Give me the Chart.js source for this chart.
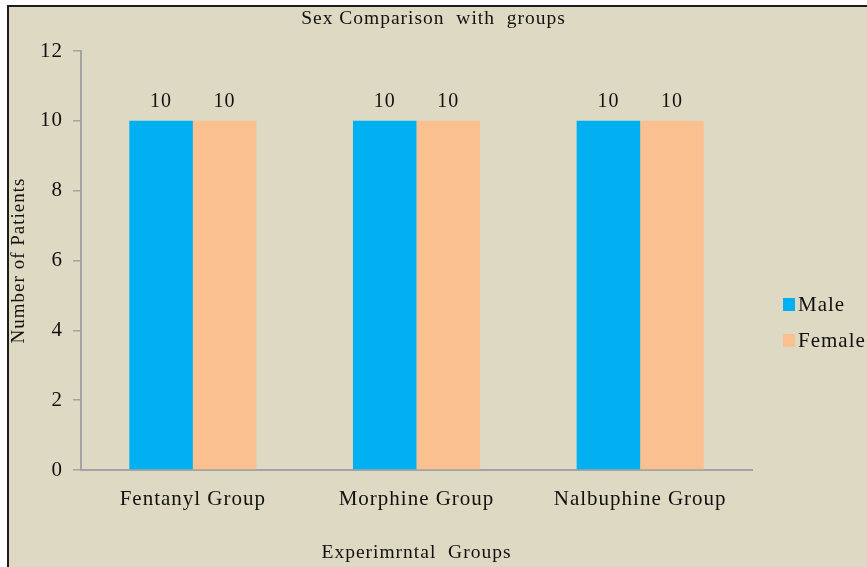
<!DOCTYPE html>
<html>
<head>
<meta charset="utf-8">
<script src="https://cdn.jsdelivr.net/npm/chart.js@4.4.1/dist/chart.umd.min.js"></script>
<style>
  html, body { margin: 0; padding: 0; background: #ffffff; overflow: hidden; }
  #wrap { width: 867px; height: 567px; position: relative; }
  canvas { display: block; }
</style>
</head>
<body>
<div id="wrap"><canvas id="chart" width="867" height="567"></canvas></div>
<script>
// Patient counts by sex in each experimental group
const groups = ['Fentanyl Group', 'Morphine Group', 'Nalbuphine Group'];
const maleCounts = [10, 10, 10];
const femaleCounts = [10, 10, 10];
const yTickValues = [0, 2, 4, 6, 8, 10, 12];
const chartTitle = 'Sex Comparison  with  groups';

const SERIF = '"Liberation Serif", "Times New Roman", serif';
const TEXT = '#111111';
const AXIS = '#a3a3a3';
const PANEL = '#DDD9C3';

// Page frame: white margin, dark rule on top and left, tan panel
const framePlugin = {
  id: 'frame',
  beforeDraw(chart) {
    const ctx = chart.ctx;
    const w = chart.width, h = chart.height;
    ctx.save();
    ctx.fillStyle = '#ffffff';
    ctx.fillRect(0, 0, w, h);
    ctx.fillStyle = PANEL;
    ctx.fillRect(9, 7, w - 9, h - 7);
    ctx.fillStyle = '#1c1c1c';
    ctx.fillRect(7, 5, 2, h - 5);
    ctx.fillRect(7, 5, w - 7, 2);
    ctx.restore();
    ctx.letterSpacing = '1px';
  }
};

// Title centred across the whole canvas
const topTitle = {
  id: 'topTitle',
  afterDraw(chart) {
    const ctx = chart.ctx;
    ctx.save();
    ctx.font = '19.5px ' + SERIF;
    ctx.fillStyle = TEXT;
    ctx.textAlign = 'center';
    ctx.textBaseline = 'middle';
    ctx.fillText(chartTitle, chart.width / 2, 19);
    ctx.restore();
  }
};

// Value labels above each bar
const valueLabels = {
  id: 'valueLabels',
  afterDatasetsDraw(chart) {
    const ctx = chart.ctx;
    ctx.save();
    ctx.font = '20px ' + SERIF;
    ctx.fillStyle = TEXT;
    ctx.textAlign = 'center';
    ctx.textBaseline = 'middle';
    chart.data.datasets.forEach((ds, i) => {
      chart.getDatasetMeta(i).data.forEach((bar, j) => {
        ctx.fillText(String(ds.data[j]), bar.x, bar.y - 19);
      });
    });
    ctx.restore();
  }
};

// Legend on the right with square swatches
const sideLegend = {
  id: 'sideLegend',
  afterDraw(chart) {
    const ctx = chart.ctx;
    ctx.save();
    ctx.font = '21px ' + SERIF;
    ctx.textAlign = 'left';
    ctx.textBaseline = 'middle';
    chart.data.datasets.forEach((ds, i) => {
      const cy = 304.5 + i * 36;
      ctx.fillStyle = ds.backgroundColor;
      ctx.fillRect(783, cy - 6.5, 12, 13);
      ctx.fillStyle = TEXT;
      ctx.fillText(ds.label, 798, cy + 1);
    });
    ctx.restore();
  }
};

new Chart(document.getElementById('chart'), {
  type: 'bar',
  data: {
    labels: groups,
    datasets: [
      { label: 'Male', data: maleCounts, backgroundColor: '#00B0F0', borderWidth: 0 },
      { label: 'Female', data: femaleCounts, backgroundColor: '#FAC090', borderWidth: 0 }
    ]
  },
  options: {
    responsive: false,
    devicePixelRatio: 1,
    animation: false,
    layout: { padding: { left: 0, right: 115, top: 51, bottom: 0 } },
    datasets: { bar: { categoryPercentage: 0.568, barPercentage: 1.0 } },
    plugins: {
      legend: { display: false },
      tooltip: { enabled: false },
      title: { display: false }
    },
    scales: {
      x: {
        grid: { display: false },
        border: { display: true, color: AXIS, width: 2 },
        ticks: {
          color: TEXT,
          font: { family: SERIF, size: 21 },
          padding: 9,
          maxRotation: 0,
          autoSkip: false
        },
        title: {
          display: true,
          text: 'Experimrntal  Groups',
          color: TEXT,
          font: { family: SERIF, size: 19.5 },
          padding: { top: 0, bottom: 2 }
        },
        afterFit(scale) { scale.height = 97; }
      },
      y: {
        min: 0,
        max: 12,
        afterBuildTicks(scale) {
          scale.ticks = yTickValues.map(v => ({ value: v }));
        },
        grid: {
          display: true,
          drawOnChartArea: false,
          drawTicks: true,
          tickLength: 8,
          color: AXIS,
          lineWidth: 1.5
        },
        border: { display: true, color: AXIS, width: 2 },
        ticks: {
          color: TEXT,
          font: { family: SERIF, size: 21 },
          padding: 10
        },
        title: {
          display: true,
          text: 'Number of Patients',
          color: TEXT,
          font: { family: SERIF, size: 19 },
          padding: { top: 8, bottom: 0 }
        },
        afterFit(scale) { scale.width = 81; }
      }
    }
  },
  plugins: [framePlugin, valueLabels, topTitle, sideLegend]
});
</script>
</body>
</html>
